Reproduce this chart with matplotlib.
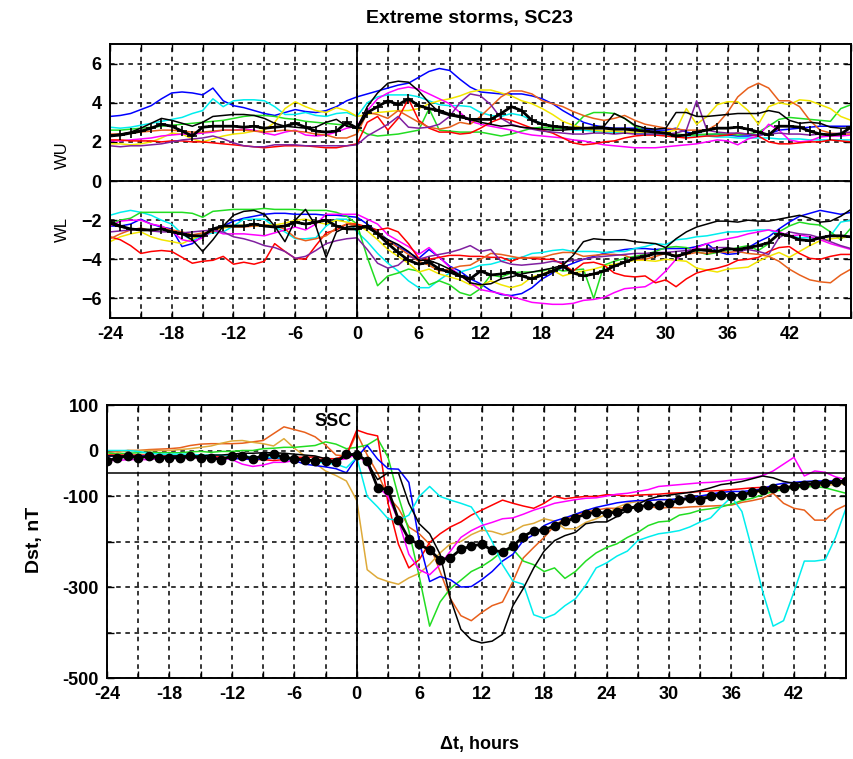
import matplotlib
matplotlib.use("Agg")
import matplotlib.pyplot as plt

plt.rcParams['font.family'] = ['Liberation Sans', 'DejaVu Sans']

# hours relative to SSC
hours_w = list(range(-24, 49))
hours_dst = list(range(-24, 48))

# ---- WU (upper panel, positive part) ----
wu_blue = [3.3, 3.35, 3.45, 3.65, 3.85, 4.2,
           4.5, 4.55, 4.5, 4.4, 4.75, 4.1,
           3.85, 3.75, 3.6, 3.45, 3.35, 3.5,
           3.65, 3.55, 3.5, 3.6, 3.8, 4.1,
           4.3, 4.45, 4.6, 4.75, 4.9, 5.0,
           5.3, 5.6, 5.75, 5.65, 5.2, 4.8,
           4.55, 4.5, 4.45, 4.45, 4.45, 4.35,
           4.2, 3.95, 3.6, 3.3, 3.0, 2.85,
           2.75, 2.7, 2.7, 2.7, 2.65, 2.6,
           2.6, 2.7, 2.5, 2.4, 2.35, 2.4,
           2.35, 2.3, 2.3, 2.35, 2.4, 2.6,
           2.65, 2.7, 2.75, 2.8, 2.8, 2.8, 2.8]
wu_cyan = [2.75, 2.7, 2.75, 2.85, 2.95, 3.05,
           3.15, 3.25, 3.45, 3.6, 4.2, 3.8,
           4.1, 4.15, 4.15, 4.1, 3.8, 3.4,
           3.4, 3.5, 3.35, 3.3, 3.45, 3.5,
           3.3, 4.0, 4.3, 4.4, 4.4, 4.4,
           4.3, 4.1, 3.9, 3.85, 3.85, 3.8,
           3.5, 3.35, 3.3, 3.45, 3.35, 3.1,
           2.95, 2.8, 2.7, 2.6, 2.6, 2.55,
           2.5, 2.5, 2.45, 2.45, 2.4, 2.4,
           2.35, 2.35, 2.3, 2.3, 2.3, 2.25,
           2.25, 2.2, 2.2, 2.2, 2.2, 2.15,
           2.15, 2.15, 2.1, 2.1, 2.1, 2.1, 2.1]
wu_green = [2.6, 2.6, 2.65, 2.7, 2.75, 2.8,
            2.85, 2.9, 2.95, 3.0, 3.05, 3.1,
            3.2, 3.3, 3.35, 3.35, 3.3, 3.2,
            3.15, 3.05, 3.0, 2.95, 2.9, 2.85,
            2.7, 2.4, 2.3, 2.35, 2.4, 2.5,
            2.6, 3.7, 2.6, 2.55, 2.5, 2.5,
            2.5, 2.4, 2.3, 2.4, 2.55, 2.7,
            2.75, 2.7, 2.7, 2.75, 3.3, 3.5,
            3.5, 3.45, 3.2, 2.8, 2.55, 2.45,
            2.4, 2.4, 2.35, 2.35, 2.4, 2.4,
            2.4, 2.35, 2.4, 2.5, 2.8, 3.15,
            3.25, 3.2, 3.15, 3.1, 3.05, 3.7, 3.9]
wu_yellow = [1.9, 1.9, 1.85, 1.9, 2.0, 2.2,
             2.45, 2.4, 2.15, 2.0, 2.15, 2.3,
             2.4, 2.45, 2.55, 2.6, 3.0, 3.7,
             4.05, 3.8, 3.6, 3.5, 3.75, 3.6,
             3.3, 3.4, 3.5, 3.55, 3.6, 3.6,
             3.7, 3.95, 4.1, 4.2, 4.35, 4.55,
             4.65, 4.65, 4.5, 4.35, 4.1, 3.95,
             3.7, 3.4, 3.05, 2.85, 2.7, 2.6,
             2.55, 2.55, 2.5, 2.5, 2.5, 2.5,
             2.5, 2.6, 3.7, 2.9, 3.3, 3.9,
             4.05, 4.05, 3.6, 2.9, 3.8, 4.0,
             3.9, 4.15, 4.1, 3.9, 3.7, 3.3, 3.1]
wu_magenta = [2.05, 2.05, 2.1, 2.15, 2.2, 2.3,
              2.35, 2.4, 2.4, 2.45, 2.5, 2.6,
              2.6, 2.65, 2.6, 2.45, 2.35, 2.5,
              2.6, 2.35, 2.3, 2.35, 2.5, 2.7,
              2.8, 3.6, 4.2, 4.5, 4.7, 4.8,
              4.7, 4.45, 4.2, 3.95, 3.5, 3.05,
              2.9, 2.8, 2.7, 2.6, 2.45, 2.35,
              2.3, 2.25, 2.2, 2.1, 2.05, 1.95,
              1.85, 1.8, 1.75, 1.7, 1.7, 1.7,
              1.75, 1.8, 1.85, 1.9, 2.0, 2.1,
              2.05, 1.85, 2.15, 2.3, 2.9, 2.6,
              2.1, 2.0, 2.05, 2.25, 2.3, 2.3, 2.35]
wu_red = [2.1, 2.1, 2.05, 2.05, 2.05, 2.0,
          2.05, 2.05, 2.0, 2.0, 1.95, 1.9,
          1.85, 1.8, 1.75, 1.7, 1.75, 1.8,
          1.8, 1.8, 1.75, 1.7, 1.7, 1.8,
          1.9, 3.0, 3.3, 2.6, 3.2, 4.2,
          3.1, 2.7, 2.5, 2.5, 2.4, 2.45,
          2.7, 3.0, 3.2, 3.1, 2.9, 2.7,
          2.6, 2.45, 2.2, 1.95, 1.85, 1.9,
          2.0, 2.05, 2.2, 2.3, 2.35, 2.35,
          2.3, 2.25, 2.2, 2.25, 2.3, 2.3,
          2.35, 2.45, 2.4, 2.3, 2.0, 1.9,
          1.9, 1.95, 2.0, 2.0, 2.1, 2.05, 2.0]
wu_orange = [2.4, 2.4, 2.45, 2.5, 2.55, 2.6,
             2.6, 2.55, 2.5, 2.5, 2.55, 2.6,
             2.6, 2.6, 2.55, 2.5, 2.55, 2.6,
             2.55, 2.5, 2.4, 2.35, 2.2, 2.2,
             2.4, 3.5, 3.4, 3.2, 3.6, 3.3,
             3.0, 2.75, 2.65, 2.75, 3.0, 2.9,
             3.3, 3.8, 4.3, 4.6, 4.6, 4.45,
             4.1, 3.95, 3.8, 3.55, 3.35, 3.2,
             3.1, 3.2, 3.35, 3.1, 2.9, 2.8,
             2.7, 2.65, 2.6, 2.6, 2.6, 2.9,
             3.5, 4.3, 4.75, 5.0, 4.75, 4.1,
             4.1, 3.8, 3.1, 2.6, 2.45, 2.4, 2.4]
wu_purple = [1.8, 1.75, 1.8, 1.8, 1.85, 1.9,
             2.0, 2.1, 2.15, 2.2, 2.3, 2.15,
             1.95, 1.8, 1.75, 1.75, 1.85, 1.85,
             1.85, 1.8, 1.8, 1.8, 1.8, 1.8,
             1.85, 2.3, 2.6, 2.9, 3.3, 2.75,
             2.7, 2.75, 2.9, 3.3, 4.0, 4.45,
             4.35, 3.9, 3.2, 2.9, 2.75, 2.65,
             2.55, 2.5, 2.45, 2.4, 2.4, 2.45,
             2.45, 2.4, 2.45, 2.4, 2.4, 2.4,
             2.4, 2.45, 2.6, 4.1, 2.6, 2.5,
             2.45, 2.45, 2.4, 2.35, 2.4, 2.45,
             2.4, 2.4, 2.35, 2.4, 2.4, 2.45, 2.5]
wu_black = [2.35, 2.4, 2.5, 2.7, 2.95, 3.2,
            3.1, 2.95, 2.8, 3.0, 3.3, 3.35,
            3.4, 3.4, 3.35, 3.2, 2.95, 2.8,
            2.75, 2.7, 2.75, 3.0, 3.15, 2.8,
            2.7, 3.8, 4.5, 5.0, 5.1, 5.05,
            4.6, 4.0, 3.5, 3.35, 3.25, 3.15,
            3.0, 2.9, 2.8, 2.85, 2.75, 2.7,
            2.65, 2.6, 2.6, 2.65, 2.7, 2.75,
            2.8, 3.45, 3.2, 2.85, 2.7, 2.65,
            2.7, 3.5, 3.5, 3.3, 3.3, 3.35,
            3.4, 3.45, 3.45, 3.45, 3.6, 3.5,
            3.1, 2.95, 3.0, 2.95, 2.75, 2.7, 2.7]
wu_mean = [2.3, 2.35, 2.45, 2.55, 2.7, 2.9,
           2.8, 2.55, 2.3, 2.75, 2.8, 2.8,
           2.8, 2.75, 2.8, 2.7, 2.75, 2.8,
           2.95, 2.75, 2.55, 2.5, 2.55, 3.0,
           2.7, 3.5, 3.8, 4.1, 3.9, 4.2,
           3.85, 3.7, 3.6, 3.4, 3.3, 3.15,
           3.15, 3.15, 3.45, 3.8, 3.6, 3.1,
           2.9, 2.8, 2.75, 2.7, 2.7, 2.7,
           2.7, 2.65, 2.65, 2.6, 2.55, 2.5,
           2.45, 2.3, 2.35, 2.5, 2.6, 2.7,
           2.7, 2.75, 2.65, 2.5, 2.35, 2.8,
           2.8, 2.75, 2.55, 2.4, 2.35, 2.4, 2.75]

# ---- WL (upper panel, negative part) ----
wl_blue = [-2.3, -2.3, -2.2, -1.95, -2.2, -2.35,
           -2.45, -3.35, -3.2, -2.8, -2.6, -2.3,
           -2.05, -1.9, -1.8, -1.7, -1.65, -1.65,
           -1.7, -1.7, -1.7, -1.75, -1.75, -1.8,
           -1.85, -2.2, -2.6, -3.0, -3.35, -3.65,
           -3.95, -3.5, -3.9, -4.35, -4.6, -5.0,
           -5.25, -5.6, -5.8, -5.85, -5.75, -5.45,
           -5.0, -4.7, -4.4, -4.2, -4.0, -3.85,
           -3.7, -3.6, -3.5, -3.45, -3.45, -3.5,
           -3.45, -3.45, -3.45, -3.35, -3.2, -3.6,
           -3.75, -3.7, -3.4, -3.1, -2.85, -2.45,
           -2.1, -1.8, -1.65, -1.5, -1.6, -1.7, -1.6]
wl_cyan = [-1.75, -1.6, -1.5, -1.6, -1.75, -2.0,
           -2.2, -2.7, -3.05, -2.75, -2.65, -2.6,
           -2.3, -1.95, -1.95, -1.95, -2.35, -2.6,
           -2.95, -2.95, -2.9, -2.3, -1.95, -1.95,
           -2.6, -3.1, -3.7, -4.2, -4.6, -5.1,
           -5.45, -5.45, -5.05, -4.7, -4.65, -4.5,
           -4.3, -4.25, -4.1, -3.95, -3.9, -3.7,
           -3.65, -3.55, -3.5, -3.6, -3.6, -3.6,
           -3.65, -3.6, -3.6, -3.45, -3.35, -3.2,
           -3.25, -3.0, -2.95, -2.85, -2.8, -2.7,
           -2.6, -2.6, -2.55, -2.5, -2.5, -2.7,
           -2.8, -2.9, -2.9, -2.95, -2.8, -2.1, -2.0]
wl_green = [-2.2, -2.0, -1.9, -1.6, -1.6, -1.6,
            -1.6, -1.6, -1.65, -1.85, -1.55, -1.5,
            -1.45, -1.45, -1.45, -1.4, -1.45, -1.45,
            -1.45, -1.5, -1.5, -1.5, -1.6, -1.8,
            -2.2, -3.9, -5.35, -4.85, -4.7, -4.5,
            -4.6, -5.3, -5.1, -5.3, -5.7, -5.85,
            -5.5, -4.8, -4.9, -4.7, -4.65, -4.65,
            -4.6, -4.45, -4.6, -4.55, -4.5, -6.0,
            -4.3, -4.1, -3.95, -3.85, -3.75, -3.6,
            -3.4, -3.35, -3.4, -3.6, -3.75, -3.65,
            -3.55, -3.4, -3.3, -3.55, -3.2, -2.6,
            -2.3, -2.1, -2.2, -2.25, -2.6, -3.0, -2.4]
wl_yellow = [-3.1, -2.85, -2.7, -2.6, -2.85, -3.0,
             -3.1, -3.2, -2.95, -2.75, -2.5, -2.4,
             -2.3, -2.25, -2.3, -2.25, -2.25, -2.15,
             -2.0, -1.95, -2.1, -2.2, -2.0, -2.1,
             -2.2, -2.55, -3.0, -3.5, -3.85, -4.2,
             -4.65, -4.5, -4.75, -4.9, -5.05, -5.3,
             -5.35, -5.1, -5.3, -5.45, -5.3, -4.9,
             -4.75, -4.55, -4.85, -4.7, -4.6, -4.5,
             -4.35, -4.25, -4.15, -4.05, -4.05, -4.1,
             -4.0, -4.05, -4.1, -4.45, -4.55, -4.65,
             -4.5, -4.45, -4.4, -4.1, -3.85, -3.65,
             -3.9, -3.6, -3.3, -3.05, -2.95, -2.9, -2.85]
wl_magenta = [-2.3, -2.05, -2.0, -2.0, -2.2, -2.3,
              -2.55, -3.0, -3.1, -2.9, -2.5, -2.7,
              -2.7, -2.7, -2.75, -2.8, -2.65, -2.5,
              -2.35, -2.5, -2.2, -1.7, -1.7, -1.7,
              -1.7, -1.95, -2.2, -2.75, -3.05, -3.35,
              -3.75, -3.4, -3.9, -4.4, -4.8, -5.2,
              -5.55, -5.65, -5.75, -5.9, -6.05, -6.2,
              -6.25, -6.3, -6.3, -6.25, -6.1, -6.05,
              -5.95, -5.7, -5.5, -5.45, -5.4, -5.1,
              -4.6, -4.0, -3.6, -3.4, -3.2, -3.05,
              -2.95, -2.85, -2.7, -2.6, -2.5, -2.6,
              -2.8, -2.75, -2.85, -3.0, -3.2, -3.35, -3.5]
wl_red = [-2.85, -3.0, -3.3, -3.7, -3.6, -3.55,
          -3.6, -3.9, -4.2, -4.1, -4.05, -3.85,
          -4.25, -4.15, -4.25, -4.1, -3.2, -3.6,
          -3.95, -4.0, -3.3, -2.65, -2.5, -2.2,
          -2.2, -2.35, -2.5, -2.4, -2.6, -3.2,
          -3.95, -4.0, -3.9, -3.8, -3.8, -3.85,
          -3.85, -3.9, -3.9, -4.1, -3.9, -3.95,
          -4.0, -4.0, -4.25, -4.6, -4.2, -4.15,
          -4.3, -4.7, -4.85, -4.9, -4.85, -5.2,
          -5.05, -5.4, -5.0, -4.7, -4.55, -4.45,
          -4.3, -4.05, -4.0, -3.9, -3.6, -3.4,
          -3.35, -3.7, -3.95, -4.0, -3.85, -3.75, -3.75]
wl_orange = [-2.95, -2.7, -2.5, -2.4, -2.55, -2.4,
             -2.5, -2.6, -2.75, -2.65, -2.6, -2.3,
             -2.35, -2.35, -2.3, -2.25, -2.3, -2.45,
             -2.9, -3.05, -2.95, -2.8, -2.4, -2.2,
             -2.3, -2.4, -2.6, -3.05, -3.4, -3.75,
             -4.1, -4.3, -4.6, -4.5, -4.35, -4.3,
             -4.0, -3.7, -3.75, -3.85, -3.95, -3.9,
             -3.9, -3.75, -3.65, -3.65, -3.85, -3.8,
             -3.75, -3.75, -3.8, -4.0, -4.0, -3.85,
             -3.7, -3.8, -3.75, -3.65, -3.7, -3.6,
             -3.65, -3.6, -3.7, -3.75, -3.85, -4.1,
             -4.5, -4.8, -5.05, -5.15, -5.2, -4.8, -4.5]
wl_purple = [-2.6, -2.55, -2.5, -2.45, -2.55, -2.6,
             -2.6, -2.65, -2.6, -2.55, -2.5, -2.6,
             -2.85, -2.95, -3.1, -3.3, -3.4, -3.6,
             -3.95, -3.85, -3.55, -3.2, -3.05, -2.95,
             -2.9, -3.5, -4.2, -4.45, -4.3, -3.85,
             -4.0, -3.85, -3.75, -3.65, -3.5, -3.3,
             -3.6, -3.5, -4.1, -4.25, -4.3, -4.25,
             -4.2, -4.1, -4.15, -4.05, -4.0, -3.9,
             -3.85, -3.8, -3.75, -3.7, -3.7, -3.65,
             -3.65, -3.6, -3.55, -3.5, -3.45, -3.4,
             -3.4, -3.6, -3.5, -3.6, -3.75, -2.9,
             -2.6, -2.7, -2.75, -2.9, -3.1, -3.3, -3.45]
wl_black = [-2.2, -2.35, -2.45, -2.45, -2.5, -2.45,
            -2.6, -2.7, -3.0, -3.6, -3.0, -2.3,
            -1.75, -1.55, -1.5, -1.7, -2.3, -3.1,
            -2.0, -1.45, -2.3, -3.9, -2.6, -2.35,
            -2.3, -2.4, -2.7, -3.0, -3.25, -3.6,
            -4.05, -4.05, -4.25, -4.5, -4.8, -5.2,
            -5.3, -5.25, -5.0, -4.9, -4.75, -4.65,
            -4.55, -4.45, -4.3, -3.8, -3.1, -2.95,
            -3.0, -3.0, -3.0, -3.1, -3.15, -3.2,
            -3.4, -2.95, -2.6, -2.35, -2.2, -2.05,
            -2.05, -2.1, -2.0, -2.05, -2.05, -1.95,
            -1.85, -1.75, -1.9, -2.1, -2.05, -1.8, -1.45]
wl_mean = [-2.1, -2.3, -2.45, -2.5, -2.5, -2.45,
           -2.6, -2.7, -2.8, -2.8, -2.45, -2.3,
           -2.3, -2.3, -2.2, -2.3, -2.35, -2.3,
           -2.1, -2.2, -2.1, -2.0, -2.3, -2.45,
           -2.45, -2.3, -2.7, -3.2, -3.65, -4.05,
           -4.25, -4.15, -4.5, -4.65, -4.85, -5.0,
           -4.6, -4.8, -4.75, -4.65, -4.85, -5.0,
           -4.8, -4.6, -4.35, -4.7, -4.85, -4.75,
           -4.6, -4.35, -4.15, -3.95, -3.85, -3.7,
           -3.7, -3.85, -3.7, -3.5, -3.55, -3.6,
           -3.45, -3.5, -3.4, -3.3, -3.15, -2.7,
           -2.8, -3.0, -3.05, -2.9, -2.8, -2.8, -2.85]

# ---- Dst, nT ----
dst_orange = [-4, -2, 0, 0, 2, 3,
              4, 6, 11, 14, 15, 15,
              15, 16, 19, 22, 37, 52,
              46, 40, 30, 12, -10, -12,
              38, -10, -50, -101, -127, -168,
              -183, -206, -266, -326, -363, -374,
              -356, -341, -333, -288, -236, -213,
              -191, -165, -150, -142, -135, -131,
              -127, -127, -125, -124, -122, -127,
              -125, -126, -124, -123, -122, -121,
              -120, -114, -110, -105, -94, -116,
              -127, -131, -153, -153, -131, -120]
dst_tan = [-11, -5, 0, 0, 0, 0,
           0, 2, 4, 7, 10, 16,
           21, 22, 18, 15, 10, 26,
           5, -12, -28, -45, -55, -67,
           -110, -262, -280, -288, -294, -280,
           -270, -250, -225, -205, -200, -185,
           -175, -178, -185, -178, -165, -160,
           -150, -155, -172, -172, -158, -150,
           -140, -125, -116, -112, -110, -108,
           -108, -106, -104, -104, -102, -100,
           -98, -96, -93, -90, -88, -85,
           -82, -80, -78, -76, -75, -72]
dst_green = [-5, -8, -6, -5, -4, -5,
             -5, -5, -3, -2, -4, -2,
             -2, 0, 0, 4, 5, 7,
             7, 9, 11, 19, 14, 4,
             7, 12, 26, -15, -101, -176,
             -277, -386, -333, -303, -285, -266,
             -255, -240, -221, -217, -243, -251,
             -266, -258, -281, -266, -243, -225,
             -213, -205, -191, -180, -165, -157,
             -155, -142, -138, -131, -128, -124,
             -118, -110, -105, -97, -90, -86,
             -82, -80, -79, -82, -88, -94]
dst_red = [-10, -10, -10, -10, -10, -12,
           -12, -12, -12, -14, -14, -14,
           -16, -18, -20, -20, -22, -20,
           -15, -15, -14, -18, -18, -10,
           45, 37, 32, -116, -206, -258,
           -240, -202, -183, -168, -157, -142,
           -131, -120, -109, -116, -122, -127,
           -116, -101, -106, -103, -101, -101,
           -97, -98, -100, -98, -97, -96,
           -94, -93, -92, -90, -89, -88,
           -86, -84, -82, -81, -80, -80,
           -79, -77, -74, -71, -70, -68]
dst_blue = [-12, -12, -14, -12, -12, -14,
            -14, -14, -14, -15, -15, -18,
            -18, -18, -20, -18, -16, -18,
            -22, -30, -33, -36, -40, -49,
            -15, 11, -19, -40, -41, -70,
            -200, -288, -277, -284, -300, -299,
            -284, -266, -243, -228, -198, -185,
            -165, -155, -148, -140, -132, -125,
            -120, -115, -112, -110, -110, -108,
            -108, -106, -104, -100, -96, -92,
            -90, -90, -88, -84, -76, -72,
            -70, -68, -67, -67, -67, -66]
dst_cyan = [0, 0, 0, -2, -6, -8,
            -8, -8, -8, -10, -10, -10,
            -12, -12, -14, -14, -16, -16,
            -20, -22, -24, -28, -30, -38,
            -15, -101, -124, -150, -154, -142,
            -101, -79, -101, -109, -116, -124,
            -158, -200, -251, -287, -294, -361,
            -369, -360, -341, -326, -296, -258,
            -247, -232, -221, -198, -190, -183,
            -180, -176, -168, -157, -148, -124,
            -102, -134, -220, -310, -386, -374,
            -311, -243, -243, -240, -191, -127]
dst_magenta = [-22, -22, -20, -20, -20, -18,
               -18, -17, -17, -16, -16, -16,
               -20, -30, -35, -32, -26, -26,
               -22, -20, -22, -24, -22, -18,
               -8, -30, -79, -101, -154, -228,
               -262, -273, -251, -221, -191, -176,
               -165, -158, -150, -148, -140, -131,
               -124, -116, -112, -108, -105, -104,
               -100, -96, -94, -90, -86, -79,
               -77, -75, -73, -71, -70, -68,
               -65, -63, -60, -55, -45, -30,
               -15, -56, -45, -48, -58, -64]
dst_black = [-12, -12, -12, -14, -14, -14,
             -12, -12, -12, -12, -10, -10,
             -8, -6, -6, -5, -5, -6,
             -8, -10, -12, -18, -24, -12,
             -4, -26, -64, -49, -49, -116,
             -161, -183, -228, -326, -393, -416,
             -423, -419, -404, -341, -303, -258,
             -221, -198, -187, -180, -161, -157,
             -157, -145, -131, -118, -107, -101,
             -98, -95, -92, -88, -82, -75,
             -72, -68, -62, -56, -60, -68,
             -72, -70, -68, -71, -70, -72]
dst_mean = [-22, -17, -12, -16, -13, -16,
            -16, -16, -13, -16, -16, -20,
            -12, -12, -18, -12, -8, -15,
            -18, -21, -22, -22, -26, -8,
            -10, -22, -82, -86, -152, -195,
            -206, -219, -240, -236, -217, -210,
            -206, -219, -223, -210, -189, -176,
            -175, -165, -156, -148, -140, -135,
            -138, -135, -127, -124, -120, -120,
            -116, -109, -105, -108, -101, -97,
            -100, -97, -92, -86, -82, -82,
            -79, -75, -73, -71, -70, -66]

wu_series = [(wu_blue, '#0000ff'), (wu_cyan, '#00eeee'), (wu_green, '#22dd22'),
             (wu_yellow, '#f2e600'), (wu_magenta, '#ff00ff'), (wu_red, '#ff0000'),
             (wu_orange, '#e8601c'), (wu_purple, '#8020a0'), (wu_black, '#000000')]
wl_series = [(wl_blue, '#0000ff'), (wl_cyan, '#00eeee'), (wl_green, '#22dd22'),
             (wl_yellow, '#f2e600'), (wl_magenta, '#ff00ff'), (wl_red, '#ff0000'),
             (wl_orange, '#e8601c'), (wl_purple, '#8020a0'), (wl_black, '#000000')]
dst_series = [(dst_orange, '#e8601c'), (dst_tan, '#deaa3a'), (dst_green, '#22dd22'),
              (dst_red, '#ff0000'), (dst_blue, '#0000ff'), (dst_cyan, '#00eeee'),
              (dst_magenta, '#ff00ff'), (dst_black, '#000000')]

x_ticks = list(range(-24, 49, 3))


def style_axes(ax, xmax):
    ax.set_xlim(-24, xmax)
    ticks = [v for v in x_ticks if v <= xmax]
    ax.set_xticks(ticks)
    ax.set_xticklabels([str(v) if (v % 6 == 0 and v < 45) else '' for v in ticks])
    ax.grid(True, color='k', linestyle=(0, (3, 3)), linewidth=1.1)
    ax.tick_params(direction='in', top=True, right=True, length=5, width=1,
                   labelsize=13, pad=6)
    for lab in ax.get_xticklabels() + ax.get_yticklabels():
        lab.set_fontweight('bold')
    for sp in ax.spines.values():
        sp.set_linewidth(1.4)
    ax.axvline(0, color='k', linewidth=1.3)


fig = plt.figure(figsize=(8.54, 7.59), dpi=100)

# upper panel: WU and WL
ax1 = fig.add_axes([0.1288, 0.581, 0.8677, 0.361])
for vals, col in wu_series + wl_series:
    ax1.plot(hours_w, vals, color=col, linewidth=1.1)
for vals in (wu_mean, wl_mean):
    ax1.plot(hours_w, vals, color='k', linewidth=2, marker='+',
             markersize=7, markeredgewidth=1.2)
ax1.axhline(0, color='k', linewidth=1.3)
ax1.set_ylim(-7, 7)
ax1.set_yticks([6, 4, 2, 0, -2, -4, -6])
style_axes(ax1, 48)

# lower panel: Dst
ax2 = fig.add_axes([0.1253, 0.1067, 0.8653, 0.3597])
for vals, col in dst_series:
    ax2.plot(hours_dst, vals, color=col, linewidth=1.1)
ax2.plot(hours_dst, dst_mean, color='k', linewidth=2, marker='o', markersize=6)
ax2.axhline(-50, color='k', linewidth=1.1)
ax2.set_ylim(-500, 100)
ax2.set_yticks(range(-500, 101, 100))
ax2.set_yticklabels(['-500', '', '-300', '', '-100', '0', '100'])
style_axes(ax2, 47)
ax2.text(-0.5, 64, 'SSC', ha='right', va='center', fontsize=13, fontweight='bold')

fig.text(0.55, 0.976, 'Extreme storms, SC23', ha='center', va='center',
         fontsize=14, fontweight='bold')
fig.text(62 / 854, 1 - 155 / 759, 'WU', rotation=90, ha='center', va='center', fontsize=12)
fig.text(62 / 854, 1 - 230 / 759, 'WL', rotation=90, ha='center', va='center', fontsize=12)
fig.text(35 / 854, 1 - 540 / 759, 'Dst, nT', rotation=90, ha='center', va='center',
         fontsize=14, fontweight='bold')
fig.text(480 / 854, 1 - 745 / 759, '\u0394t, hours', ha='center', va='center',
         fontsize=13, fontweight='bold')

fig.savefig('out.png', dpi=100)
